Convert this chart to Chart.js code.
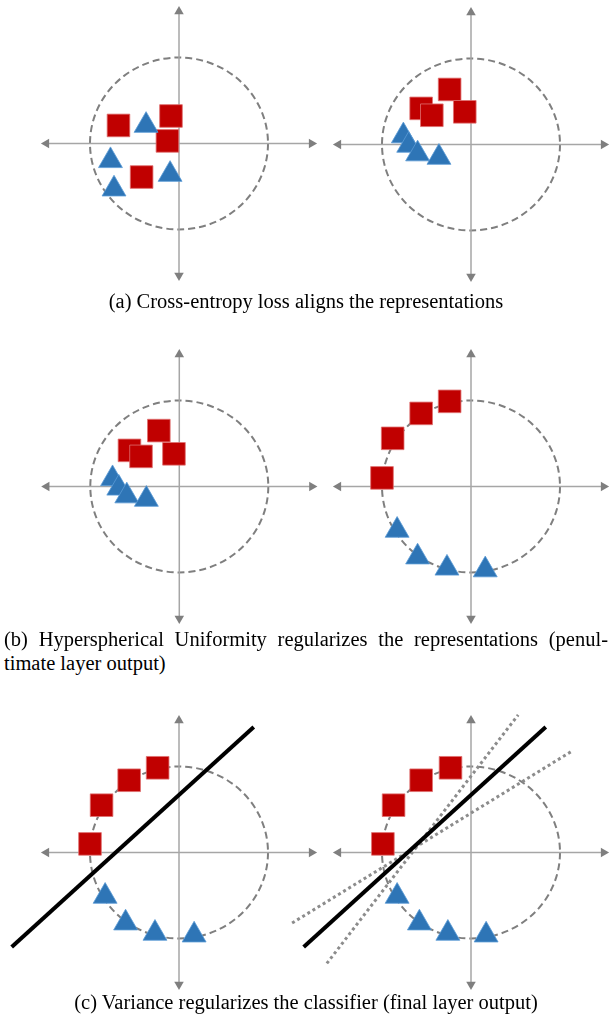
<!DOCTYPE html>
<html>
<head>
<meta charset="utf-8">
<script src="https://cdn.jsdelivr.net/npm/chart.js"></script>
<style>
  body { margin: 0; width: 612px; height: 1021px; position: relative; background: #fff; }
  canvas { position: absolute; }
  .cap { position: absolute; font-family: "Liberation Serif", "Times New Roman", serif; font-size: 20.5px; line-height: 24px; color: #000; white-space: nowrap; }
</style>
</head>
<body>
<canvas id="a1"></canvas>
<canvas id="a2"></canvas>
<canvas id="b1"></canvas>
<canvas id="b2"></canvas>
<canvas id="c1"></canvas>
<canvas id="c2"></canvas>

<div class="cap" style="left:0;width:612px;top:289px;text-align:center">(a) Cross-entropy loss aligns the representations</div>
<div class="cap" style="left:4px;width:604px;top:627px;text-align:justify;text-align-last:justify">(b) Hyperspherical Uniformity regularizes the representations (penul-</div>
<div class="cap" style="left:4px;top:651px">timate layer output)</div>
<div class="cap" style="left:0;width:612px;top:990px;text-align:center">(c) Variance regularizes the classifier (final layer output)</div>

<script>
// positions in units of the circle radius
const squaresA1 = [{x:-0.68,y:0.21},{x:-0.09,y:0.32},{x:-0.13,y:0.03},{x:-0.42,y:-0.39}];
const trianglesA1 = [{x:-0.37,y:0.21},{x:-0.77,y:-0.20},{x:-0.73,y:-0.53},{x:-0.10,y:-0.36}];

const squaresA2 = [{x:-0.56,y:0.42},{x:-0.44,y:0.34},{x:-0.24,y:0.64},{x:-0.07,y:0.38}];
const trianglesA2 = [{x:-0.76,y:0.10},{x:-0.70,y:-0.01},{x:-0.60,y:-0.11},{x:-0.36,y:-0.15}];

const squaresB1 = [{x:-0.56,y:0.42},{x:-0.43,y:0.35},{x:-0.23,y:0.65},{x:-0.06,y:0.38}];
const trianglesB1 = [{x:-0.75,y:0.09},{x:-0.68,y:-0.02},{x:-0.59,y:-0.11},{x:-0.37,y:-0.15}];

const squaresB2 = [{x:-0.24,y:0.99},{x:-0.56,y:0.85},{x:-0.88,y:0.56},{x:-1.00,y:0.10}];
const trianglesB2 = [{x:-0.83,y:-0.51},{x:-0.60,y:-0.82},{x:-0.27,y:-0.95},{x:0.16,y:-0.97}];

const squaresC1 = [{x:-0.24,y:0.985},{x:-0.56,y:0.84},{x:-0.87,y:0.55},{x:-1.00,y:0.10}];
const trianglesC1 = [{x:-0.83,y:-0.51},{x:-0.60,y:-0.82},{x:-0.27,y:-0.94},{x:0.17,y:-0.96}];
const classifierC1 = [{x:-1.88,y:-1.10},{x:0.84,y:1.46}];

const squaresC2 = [{x:-0.23,y:0.985},{x:-0.56,y:0.84},{x:-0.87,y:0.55},{x:-0.99,y:0.10}];
const trianglesC2 = [{x:-0.83,y:-0.51},{x:-0.58,y:-0.82},{x:-0.26,y:-0.94},{x:0.17,y:-0.96}];
const classifierC2 = [{x:-1.88,y:-1.10},{x:0.84,y:1.46}];
const steepC2 = [{x:-1.62,y:-1.29},{x:0.53,y:1.60}];
const shallowC2 = [{x:-2.01,y:-0.82},{x:1.12,y:1.17}];

const axisX = [{x:-1.49,y:0},{x:1.49,y:0}];
const axisY = [{x:0,y:-1.535},{x:0,y:1.535}];
const arrowTips = [{x:-1.49,y:0},{x:1.49,y:0},{x:0,y:1.535},{x:0,y:-1.535}];
const circleRadius = 1;

const RED = '#C00000', BLUE = '#2E75B6', GREY = '#7F7F7F';

const unitCircle = {
  id: 'unitCircle',
  beforeDatasetsDraw(chart) {
    const {ctx, scales: {x, y}} = chart;
    const cx = x.getPixelForValue(0), cy = y.getPixelForValue(0);
    const rx = x.getPixelForValue(circleRadius) - cx;
    const ry = cy - y.getPixelForValue(circleRadius);
    ctx.save();
    ctx.setLineDash([7, 4]);
    ctx.strokeStyle = GREY;
    ctx.lineWidth = 2;
    ctx.beginPath();
    ctx.ellipse(cx, cy, rx, ry, 0, 0, Math.PI * 2);
    ctx.stroke();
    ctx.restore();
  }
};

function lineSet(data, color, width, dash) {
  return { data: data, showLine: true, borderColor: color, borderWidth: width,
           borderDash: dash || [], pointRadius: 0, borderCapStyle: 'butt', fill: false };
}

function panel(id, box, squares, triangles, extra) {
  const ux = 89, uy = 86;
  const canvas = document.getElementById(id);
  canvas.width = box.w; canvas.height = box.h;
  canvas.style.left = box.left + 'px'; canvas.style.top = box.top + 'px';
  new Chart(canvas, {
    type: 'scatter',
    data: {
      datasets: [
        ...extra,
        { data: triangles, pointStyle: 'triangle', pointRadius: 13.8,
          backgroundColor: BLUE, borderColor: '#5B9BD5', borderWidth: 0.8 },
        { data: squares, pointStyle: 'rect', pointRadius: 16,
          backgroundColor: RED, borderColor: '#E07070', borderWidth: 0.8 },
        { data: arrowTips, pointStyle: 'triangle', pointRadius: 5.5,
          pointRotation: [270, 90, 0, 180], backgroundColor: GREY, borderWidth: 0 },
        lineSet(axisX, '#A6A6A6', 1.5),
        lineSet(axisY, '#A6A6A6', 1.5)
      ]
    },
    options: {
      responsive: false,
      animation: false,
      devicePixelRatio: 1,
      events: [],
      layout: { padding: 0, autoPadding: false },
      plugins: { legend: { display: false }, tooltip: { enabled: false } },
      scales: {
        x: { type: 'linear', display: false,
             min: -(box.ox - box.left) / ux, max: (box.left + box.w - box.ox) / ux },
        y: { type: 'linear', display: false,
             min: -(box.top + box.h - box.oy) / uy, max: (box.oy - box.top) / uy }
      }
    },
    plugins: [unitCircle]
  });
}

panel('a1', {left:0, top:0, w:330, h:300, ox:179, oy:143.5}, squaresA1, trianglesA1, []);
panel('a2', {left:280, top:0, w:332, h:300, ox:471, oy:144.5}, squaresA2, trianglesA2, []);
panel('b1', {left:0, top:340, w:330, h:300, ox:179.3, oy:486.5}, squaresB1, trianglesB1, []);
panel('b2', {left:280, top:340, w:332, h:300, ox:471, oy:486.5}, squaresB2, trianglesB2, []);
panel('c1', {left:0, top:700, w:330, h:300, ox:179, oy:852.5}, squaresC1, trianglesC1,
      [lineSet(classifierC1, '#000', 4)]);
panel('c2', {left:280, top:700, w:332, h:300, ox:471, oy:852.5}, squaresC2, trianglesC2,
      [lineSet(classifierC2, '#000', 4),
       lineSet(steepC2, '#8C8C8C', 3, [3, 3]),
       lineSet(shallowC2, '#8C8C8C', 3, [3, 3])]);
</script>
</body>
</html>
